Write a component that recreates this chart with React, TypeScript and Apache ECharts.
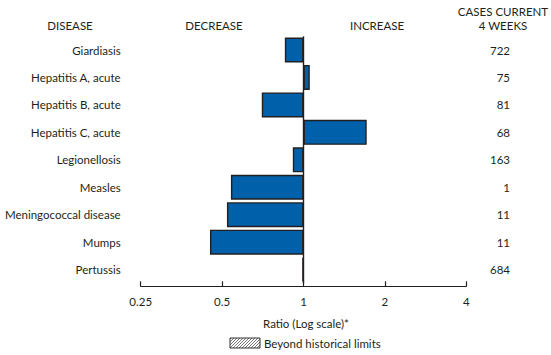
import React, { useEffect, useRef } from "react";
import * as echarts from "echarts";

const diseases = [
  "Giardiasis",
  "Hepatitis A, acute",
  "Hepatitis B, acute",
  "Hepatitis C, acute",
  "Legionellosis",
  "Measles",
  "Meningococcal disease",
  "Mumps",
  "Pertussis",
];
const ratios = [0.853, 1.055, 0.701, 1.713, 0.913, 0.539, 0.521, 0.451, 0.99];
const cases = ["722", "75", "81", "68", "163", "1", "11", "11", "684"];
const tickValues = [0.25, 0.5, 1, 2, 4];

const FONT = "Lato";
const TXT = "#231F20";

function hatchLines() {
  const out: any[] = [];
  const x0 = 230, x1 = 260, yTop = 338, yBot = 348;
  const h = yBot - yTop;
  for (let c = x0 - h + 1; c < x1; c += 3) {
    let sx = c, sy = yBot;
    let ex = c + h, ey = yTop;
    if (sx < x0) { sy = yBot - (x0 - c); sx = x0; }
    if (ex > x1) { ey = yBot - (x1 - c); ex = x1; }
    out.push({
      type: "line",
      shape: { x1: sx, y1: sy, x2: ex, y2: ey },
      style: { stroke: "#777", lineWidth: 1 },
      silent: true,
    });
  }
  return out;
}

export default function App() {
  const ref = useRef<HTMLDivElement>(null);
  useEffect(() => {
    document.body.style.margin = "0";
    const chart = echarts.init(ref.current!, null, { renderer: "svg" });
    const textStyle = (x: number, y: number, text: string, align = "center") => ({
      type: "text",
      x,
      y,
      style: {
        text,
        fill: TXT,
        font: `11.5px ${FONT}`,
        align,
        verticalAlign: "middle",
      },
    });
    chart.setOption({
      animation: false,
      grid: { left: 140.7, right: 84.7, top: 36.3, height: 247, containLabel: false },
      xAxis: {
        type: "log",
        logBase: 2,
        min: 0.25,
        max: 4,
        interval: 1,
        position: "bottom",
        offset: 3,
        axisLine: { show: true, lineStyle: { color: TXT, width: 1.2 } },
        axisTick: { show: true, inside: true, length: 5, lineStyle: { color: TXT, width: 1.2 } },
        axisLabel: {
          color: TXT,
          fontFamily: FONT,
          fontSize: 11.5,
          margin: 9,
          formatter: (v: number) => {
            const t = tickValues.find((tv) => Math.abs(tv - v) < 1e-6);
            return t !== undefined ? String(t) : "";
          },
        },
        splitLine: { show: false },
      },
      yAxis: [
        {
          type: "category",
          data: diseases,
          inverse: true,
          axisLine: { show: false },
          axisTick: { show: false },
          axisLabel: { color: TXT, fontFamily: FONT, fontSize: 11.5, margin: 20 },
        },
        {
          type: "category",
          data: cases,
          inverse: true,
          position: "right",
          axisLine: { show: false },
          axisTick: { show: false },
          axisLabel: {
            color: TXT,
            fontFamily: FONT,
            fontSize: 11.5,
            margin: 43.7,
            align: "right",
          },
        },
      ],
      series: [
        {
          type: "bar",
          data: ratios,
          yAxisIndex: 0,
          barWidth: 25,
          itemStyle: { color: "#0060AA", borderColor: TXT, borderWidth: 1.4 },
          markLine: {
            silent: true,
            symbol: "none",
            label: { show: false },
            lineStyle: { color: TXT, width: 1.4, type: "solid" },
            data: [{ xAxis: 1 }],
          },
        },
      ],
      graphic: [
        textStyle(70, 25, "DISEASE"),
        textStyle(214, 25, "DECREASE"),
        textStyle(377, 25, "INCREASE"),
        textStyle(503, 11.7, "CASES CURRENT"),
        textStyle(503, 25, "4 WEEKS"),
        textStyle(306, 323, "Ratio (Log scale)*"),
        textStyle(264, 343, "Beyond historical limits", "left"),
        {
          type: "rect",
          shape: { x: 230, y: 338, width: 30, height: 10 },
          style: { fill: "#fff", stroke: "none" },
        },
        ...hatchLines(),
        {
          type: "rect",
          shape: { x: 230, y: 338, width: 30, height: 10 },
          style: { fill: "none", stroke: "#333", lineWidth: 1 },
        },
      ],
    });
    return () => chart.dispose();
  }, []);
  return (
    <div
      ref={ref}
      style={{ position: "fixed", left: 0, top: 0, width: 551, height: 355, background: "#fff" }}
    />
  );
}
